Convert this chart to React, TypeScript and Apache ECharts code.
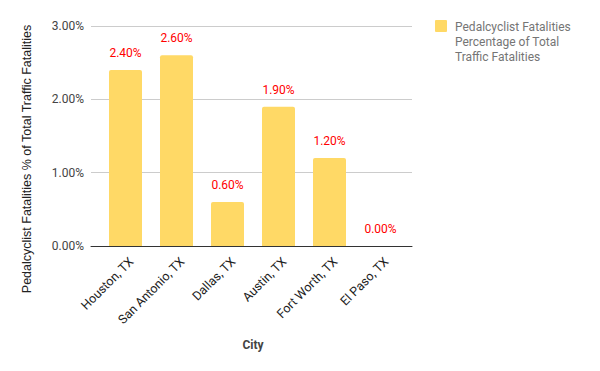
import React, { useEffect, useRef } from "react";
import * as echarts from "echarts";

const cities = ["Houston, TX", "San Antonio, TX", "Dallas, TX", "Austin, TX", "Fort Worth, TX", "El Paso, TX"];
const values = [2.4, 2.6, 0.6, 1.9, 1.2, 0.0];
const seriesName = "Pedalcyclist Fatalities\nPercentage of Total\nTraffic Fatalities";
const yTitle = "Pedalcyclist Fatalities % of Total Traffic Fatalities";
const xTitle = "City";
const barColor = "#FFD966";

export default function App() {
  const ref = useRef<HTMLDivElement>(null);
  useEffect(() => {
    document.body.style.margin = "0";
    const chart = echarts.init(ref.current!, undefined, { renderer: "svg" });
    const font = "Roboto, Arial, sans-serif";
    chart.setOption({
      animation: false,
      textStyle: { fontFamily: font },
      grid: [
        { left: 91, right: 188, top: 26, bottom: 125, outerBoundsMode: "none", containLabel: false },
        { left: 100, right: 194, top: 26, bottom: 125, outerBoundsMode: "none", containLabel: false },
      ],
      legend: { show: false },
      graphic: [
        { type: "rect", left: 435, top: 20, shape: { width: 12, height: 12, r: 1 }, style: { fill: barColor } },
        {
          type: "text",
          left: 455,
          top: 19,
          style: { text: seriesName, fill: "#757575", font: "12px " + font, lineHeight: 15 },
        },
        {
          type: "text",
          x: 27,
          y: 159,
          rotation: Math.PI / 2,
          style: {
            text: yTitle,
            fill: "#222",
            font: "12.5px 'Liberation Sans', Arial, sans-serif",
            align: "center",
            verticalAlign: "middle",
          },
        },
      ],
      xAxis: [
        {
          gridIndex: 0,
          type: "category",
          data: [""],
          axisLine: { show: true, lineStyle: { color: "#333", width: 1 } },
          axisTick: { show: false },
          axisLabel: { show: false },
        },
        {
          gridIndex: 1,
          type: "category",
          data: cities,
          name: xTitle,
          nameLocation: "middle",
          nameGap: 93,
          nameTextStyle: { color: "#444", fontSize: 12, fontWeight: "bold", fontFamily: font },
          axisLine: { show: false },
          axisTick: { show: false },
          axisLabel: {
            rotate: 45,
            color: "#222",
            fontSize: 12.5,
            margin: 19,
            interval: 0,
            fontFamily: font,
            padding: [0, -8, 0, 0],
          },
        },
      ],
      yAxis: [
        {
          gridIndex: 0,
          type: "value",
          min: 0,
          max: 3,
          interval: 1,
          axisLine: { show: false },
          axisTick: { show: false },
          axisLabel: { color: "#444", fontSize: 12, margin: 7, formatter: (v: number) => v.toFixed(2) + "%", fontFamily: font },
          splitLine: { lineStyle: { color: "#cccccc" } },
        },
        {
          gridIndex: 1,
          type: "value",
          min: 0,
          max: 3,
          interval: 1,
          show: false,
          splitLine: { show: false },
        },
      ],
      series: [
        {
          name: seriesName,
          type: "bar",
          xAxisIndex: 1,
          yAxisIndex: 1,
          data: values,
          barWidth: 33,
          itemStyle: { color: barColor, borderRadius: [2, 2, 0, 0] },
          label: {
            show: true,
            position: "top",
            distance: 11,
            color: "#ff0000",
            fontSize: 12,
            fontFamily: font,
            formatter: (p: any) => p.value.toFixed(2) + "%",
          },
        },
      ],
    });
    return () => chart.dispose();
  }, []);
  return <div ref={ref} style={{ width: 600, height: 371 }} />;
}
